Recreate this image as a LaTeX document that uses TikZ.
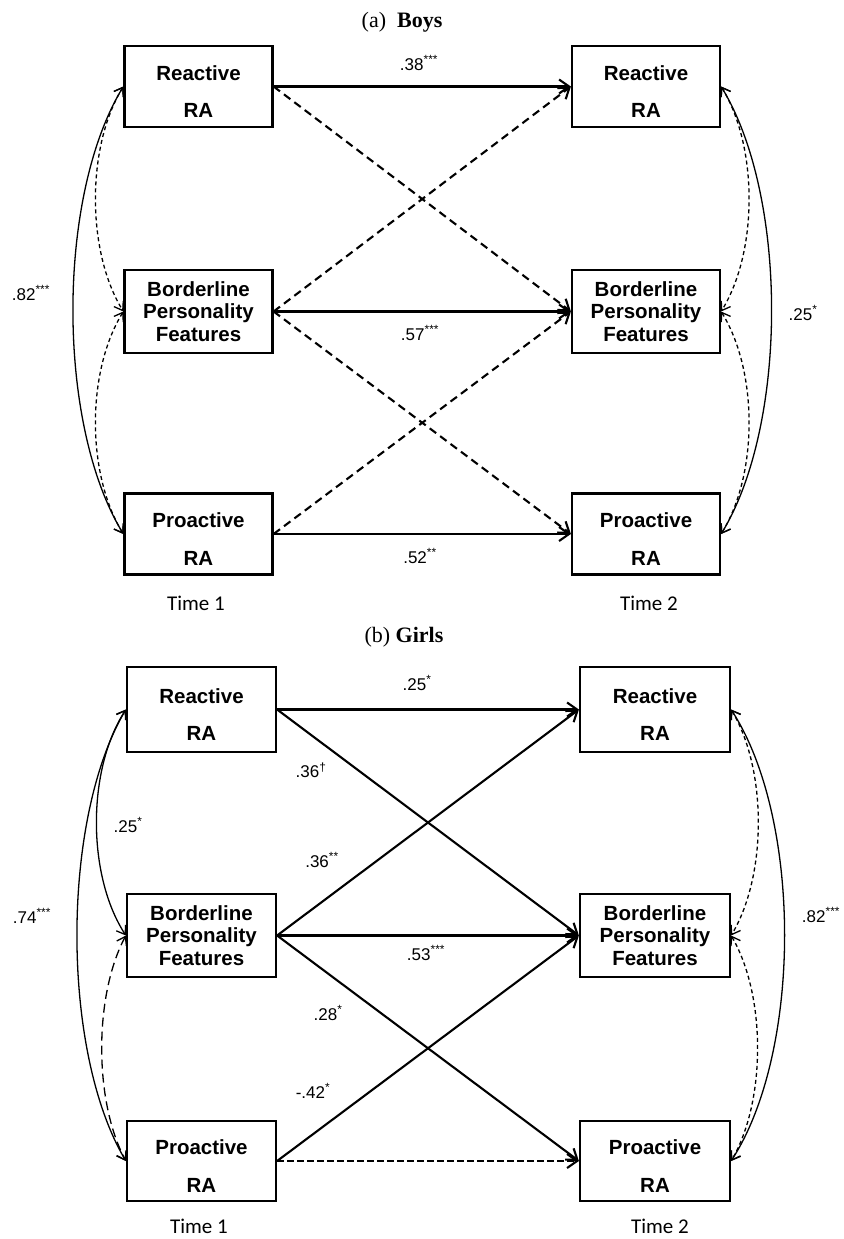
\documentclass[tikz,border=0pt]{standalone}
\usepackage{fontspec}
\setmainfont{Liberation Serif}
\newfontfamily\arialfont{Liberation Sans}
\newfontfamily\calibrifont{Carlito}
\usetikzlibrary{arrows.meta}
\tikzset{
  var/.style={draw,line width=2.2pt,inner sep=0pt,align=center,minimum width=148pt,minimum height=81pt,font=\arialfont\bfseries\fontsize{20.5}{22.5}\selectfont},
  ravar/.style={var,text height=62pt,text depth=0pt},
  coef/.style={font=\arialfont\fontsize{17}{20}\selectfont,inner sep=0pt},
  sig/.style={->,line width=2.1pt},
  nsig/.style={sig,dash pattern=on 8pt off 5pt},
  cov/.style={{Straight Barb[length=8pt,width=11pt]}-{Straight Barb[length=8pt,width=11pt]},line width=1.3pt},
  covdash/.style={cov,dash pattern=on 4pt off 3pt},
  covlong/.style={cov,dash pattern=on 9pt off 5pt},
  timelab/.style={font=\calibrifont\fontsize{21}{24}\selectfont,inner sep=0pt},
  paneltitle/.style={font=\fontsize{22}{26}\selectfont,inner sep=0pt}
}
\begin{document}
\begin{tikzpicture}[x=1pt,y=-1pt,>={Straight Barb[length=10pt,width=14pt]}]
\useasboundingbox (0,0) rectangle (843,1239);

\node[paneltitle] (titlea) at (402,22) {(a)\ \ \textbf{Boys}};
\node[ravar] (rt1a) at (198.5,86.5) {Reactive\\[15pt]RA};
\node[var,minimum height=83pt] (bpf1a) at (198.5,311.5) {Borderline\\Personality\\Features};
\node[ravar] (pro1a) at (198.5,534) {Proactive\\[15pt]RA};
\node[ravar] (rt2a) at (646,86.5) {Reactive\\[15pt]RA};
\node[var,minimum height=83pt] (bpf2a) at (646,311.5) {Borderline\\Personality\\Features};
\node[ravar] (pro2a) at (646,534) {Proactive\\[15pt]RA};
\node[timelab] (t1a) at (196,603) {Time 1};
\node[timelab] (t2a) at (649,603) {Time 2};

\draw[sig] (rt1a.east) -- (rt2a.west);
\draw[nsig] (rt1a.east) -- (bpf2a.west);
\draw[nsig] (bpf1a.east) -- (rt2a.west);
\draw[sig] (bpf1a.east) -- (bpf2a.west);
\draw[nsig] (bpf1a.east) -- (pro2a.west);
\draw[nsig] (pro1a.east) -- (bpf2a.west);
\draw[sig] (pro1a.east) -- (pro2a.west);
\draw[cov] (rt1a.west) .. controls +(-67,110) and +(-67,-110) .. (pro1a.west);
\draw[covdash] (rt1a.west) .. controls +(-37,60) and +(-37,-60) .. (bpf1a.west);
\draw[covdash] (bpf1a.west) .. controls +(-37,60) and +(-37,-60) .. (pro1a.west);
\draw[cov] (rt2a.east) .. controls +(67,110) and +(67,-110) .. (pro2a.east);
\draw[covdash] (rt2a.east) .. controls +(37,60) and +(37,-60) .. (bpf2a.east);
\draw[covdash] (bpf2a.east) .. controls +(37,60) and +(37,-60) .. (pro2a.east);
\node[coef] (ca1) at (419,63) {.38\textsuperscript{***}};
\node[coef] (ca2) at (420,333) {.57\textsuperscript{***}};
\node[coef] (ca3) at (420,556) {.52\textsuperscript{**}};
\node[coef] (ca4) at (31,293) {.82\textsuperscript{***}};
\node[coef] (ca5) at (803,313) {.25\textsuperscript{*}};

\node[paneltitle] (titleb) at (404,637) {(b) \textbf{Girls}};
\node[ravar,minimum width=149pt,minimum height=85pt] (rt1b) at (201.5,709.5) {Reactive\\[15pt]RA};
\node[var,minimum width=149pt,minimum height=83pt] (bpf1b) at (201.5,935.5) {Borderline\\Personality\\Features};
\node[ravar,minimum width=149pt,minimum height=80pt] (pro1b) at (201.5,1161) {Proactive\\[15pt]RA};
\node[ravar,minimum width=150pt,minimum height=85pt] (rt2b) at (655,709.5) {Reactive\\[15pt]RA};
\node[var,minimum width=150pt,minimum height=83pt] (bpf2b) at (655,935.5) {Borderline\\Personality\\Features};
\node[ravar,minimum width=150pt,minimum height=80pt] (pro2b) at (655,1161) {Proactive\\[15pt]RA};
\node[timelab] (t1b) at (199,1226) {Time 1};
\node[timelab] (t2b) at (660,1226) {Time 2};

\draw[sig] (rt1b.east) -- (rt2b.west);
\draw[sig] (rt1b.east) -- (bpf2b.west);
\draw[sig] (bpf1b.east) -- (rt2b.west);
\draw[sig] (bpf1b.east) -- (bpf2b.west);
\draw[sig] (bpf1b.east) -- (pro2b.west);
\draw[sig] (pro1b.east) -- (bpf2b.west);
\draw[sig,dash pattern=on 7pt off 3pt] (pro1b.east) -- (pro2b.west);
\draw[cov] (rt1b.west) .. controls +(-65,110) and +(-65,-110) .. (pro1b.west);
\draw[cov] (rt1b.west) .. controls +(-39,60) and +(-39,-60) .. (bpf1b.west);
\draw[covlong] (bpf1b.west) .. controls +(-32,60) and +(-32,-60) .. (pro1b.west);
\draw[cov] (rt2b.east) .. controls +(71,110) and +(71,-110) .. (pro2b.east);
\draw[covdash] (rt2b.east) .. controls +(36,60) and +(36,-60) .. (bpf2b.east);
\draw[covdash] (bpf2b.east) .. controls +(35,60) and +(35,-60) .. (pro2b.east);
\node[coef] (cb1) at (417,683) {.25\textsuperscript{*}};
\node[coef] (cb2) at (311,770) {.36\textsuperscript{†}};
\node[coef] (cb3) at (322,860) {.36\textsuperscript{**}};
\node[coef] (cb4) at (426,953) {.53\textsuperscript{***}};
\node[coef] (cb5) at (328,1013) {.28\textsuperscript{*}};
\node[coef] (cb6) at (313,1091) {-.42\textsuperscript{*}};
\node[coef] (cb7) at (32,916) {.74\textsuperscript{***}};
\node[coef] (cb8) at (128,825) {.25\textsuperscript{*}};
\node[coef] (cb9) at (821,915) {.82\textsuperscript{***}};
\end{tikzpicture}
\end{document}
